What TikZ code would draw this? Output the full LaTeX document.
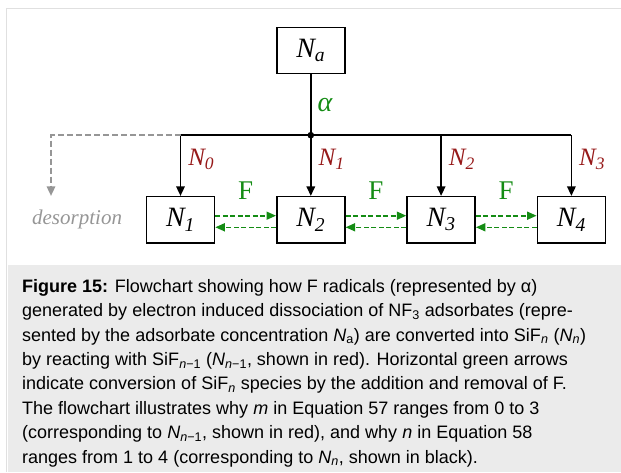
\documentclass[tikz,border=0pt]{standalone}
\usepackage{fontspec}
\setmainfont{Liberation Serif}
\newfontfamily\capfont{Liberation Sans}
\usepackage{xcolor}
\usepackage{tikz}
\usetikzlibrary{arrows.meta, positioning}

\definecolor{fgreen}{RGB}{20,140,20}
\definecolor{dred}{RGB}{150,25,25}
\definecolor{framegray}{RGB}{224,224,224}
\definecolor{capbg}{RGB}{235,235,235}
\definecolor{desgray}{RGB}{150,150,150}

\newcommand{\Nsp}[1]{\textit{N\textsubscript{#1}}}

\begin{document}
\begin{tikzpicture}[
    x=1pt, y=1pt,
    node distance=60.7pt,
    species/.style={rectangle, draw, line width=1.6pt, minimum width=68pt, minimum height=46pt, inner sep=0pt, font=\fontsize{28}{30}\selectfont},
    conn/.style={line width=1.6pt},
    feed/.style={line width=1.6pt, -{Triangle[width=8.5pt,length=9.5pt]}},
    fstep/.style={fgreen, line width=1.6pt, dash pattern=on 5pt off 2.5pt, -{Triangle[width=8pt,length=9.5pt]}},
    desorb/.style={desgray, line width=1.6pt, dash pattern=on 6pt off 3pt, -{Triangle[width=8.5pt,length=9.5pt]}},
    redlbl/.style={dred, inner sep=0pt, font=\fontsize{25}{28}\selectfont},
    flbl/.style={fgreen, inner sep=0pt, font=\fontsize{27}{30}\selectfont}
]
\useasboundingbox (0,0) rectangle (621,472);

% Frame and caption
\fill[capbg] (7.5,0) rectangle (621,207);
\draw[framegray, line width=1.5pt] (6.7,0) |- (621,463.7);
\node[anchor=north west, inner sep=0pt, align=left, font=\capfont\fontsize{18}{24.4}\selectfont] (caption) at (22,193) {%
\textbf{Figure 15:} Flowchart showing how F radicals (represented by α)\\
generated by electron induced dissociation of NF\textsubscript{3} adsorbates (repre-\\
sented by the adsorbate concentration \textit{N}\textsubscript{a}) are converted into SiF\textsubscript{\textit{n}} (\textit{N}\textsubscript{\textit{n}})\\
by reacting with SiF\textsubscript{\textit{n}−1} (\textit{N}\textsubscript{\textit{n}−1}, shown in red). Horizontal green arrows\\
indicate conversion of SiF\textsubscript{\textit{n}} species by the addition and removal of F.\\
The flowchart illustrates why \textit{m} in Equation 57 ranges from 0 to 3\\
(corresponding to \textit{N}\textsubscript{\textit{n}−1}, shown in red), and why \textit{n} in Equation 58\\
ranges from 1 to 4 (corresponding to \textit{N}\textsubscript{\textit{n}}, shown in black).};

% Species boxes
\node[species] (n1) at (180.5,252.3) {\Nsp{\textit{1}}};
\node[species, right=of n1] (n2) {\Nsp{\textit{2}}};
\node[species, right=of n2] (n3) {\Nsp{\textit{3}}};
\node[species, right=of n3] (n4) {\Nsp{\textit{4}}};
\node[species, above=121.7pt of n2] (na) {\Nsp{a}};

% Branch
\coordinate (jn) at ([yshift=-61pt]na.south);
\draw[conn] (na) -- node[right=6pt, fgreen, inner sep=0pt, font=\fontsize{28}{30}\selectfont] {\textit{α}} (jn);
\draw[conn] (n1 |- jn) -- (n4 |- jn);
\fill (jn) circle (3.3pt);
\draw[feed] (n1 |- jn) -- node[redlbl, right=7pt, pos=0.4] {\Nsp{\textit{0}}} (n1.north);
\draw[feed] (n2 |- jn) -- node[redlbl, right=7pt, pos=0.4] {\Nsp{\textit{1}}} (n2.north);
\draw[feed] (n3 |- jn) -- node[redlbl, right=7pt, pos=0.4] {\Nsp{\textit{2}}} (n3.north);
\draw[feed] (n4 |- jn) -- node[redlbl, right=7pt, pos=0.4] {\Nsp{\textit{3}}} (n4.north);

% Desorption
\coordinate (dsend) at ([xshift=-129.5pt]n1.north);
\draw[desorb] (n1 |- jn) -| (dsend);
\node[desgray, left=23.5pt of n1, inner sep=0pt, font=\fontsize{21}{24}\selectfont\itshape] (desorp) {desorption};

% F addition and removal
\draw[fstep] ([yshift=4pt]n1.east) -- node[flbl, above=15.7pt] {F} ([yshift=4pt]n2.west);
\draw[fstep] ([yshift=-7.6pt]n2.west) -- ([yshift=-7.6pt]n1.east);
\draw[fstep] ([yshift=4pt]n2.east) -- node[flbl, above=15.7pt] {F} ([yshift=4pt]n3.west);
\draw[fstep] ([yshift=-7.6pt]n3.west) -- ([yshift=-7.6pt]n2.east);
\draw[fstep] ([yshift=4pt]n3.east) -- node[flbl, above=15.7pt] {F} ([yshift=4pt]n4.west);
\draw[fstep] ([yshift=-7.6pt]n4.west) -- ([yshift=-7.6pt]n3.east);

\end{tikzpicture}
\end{document}
